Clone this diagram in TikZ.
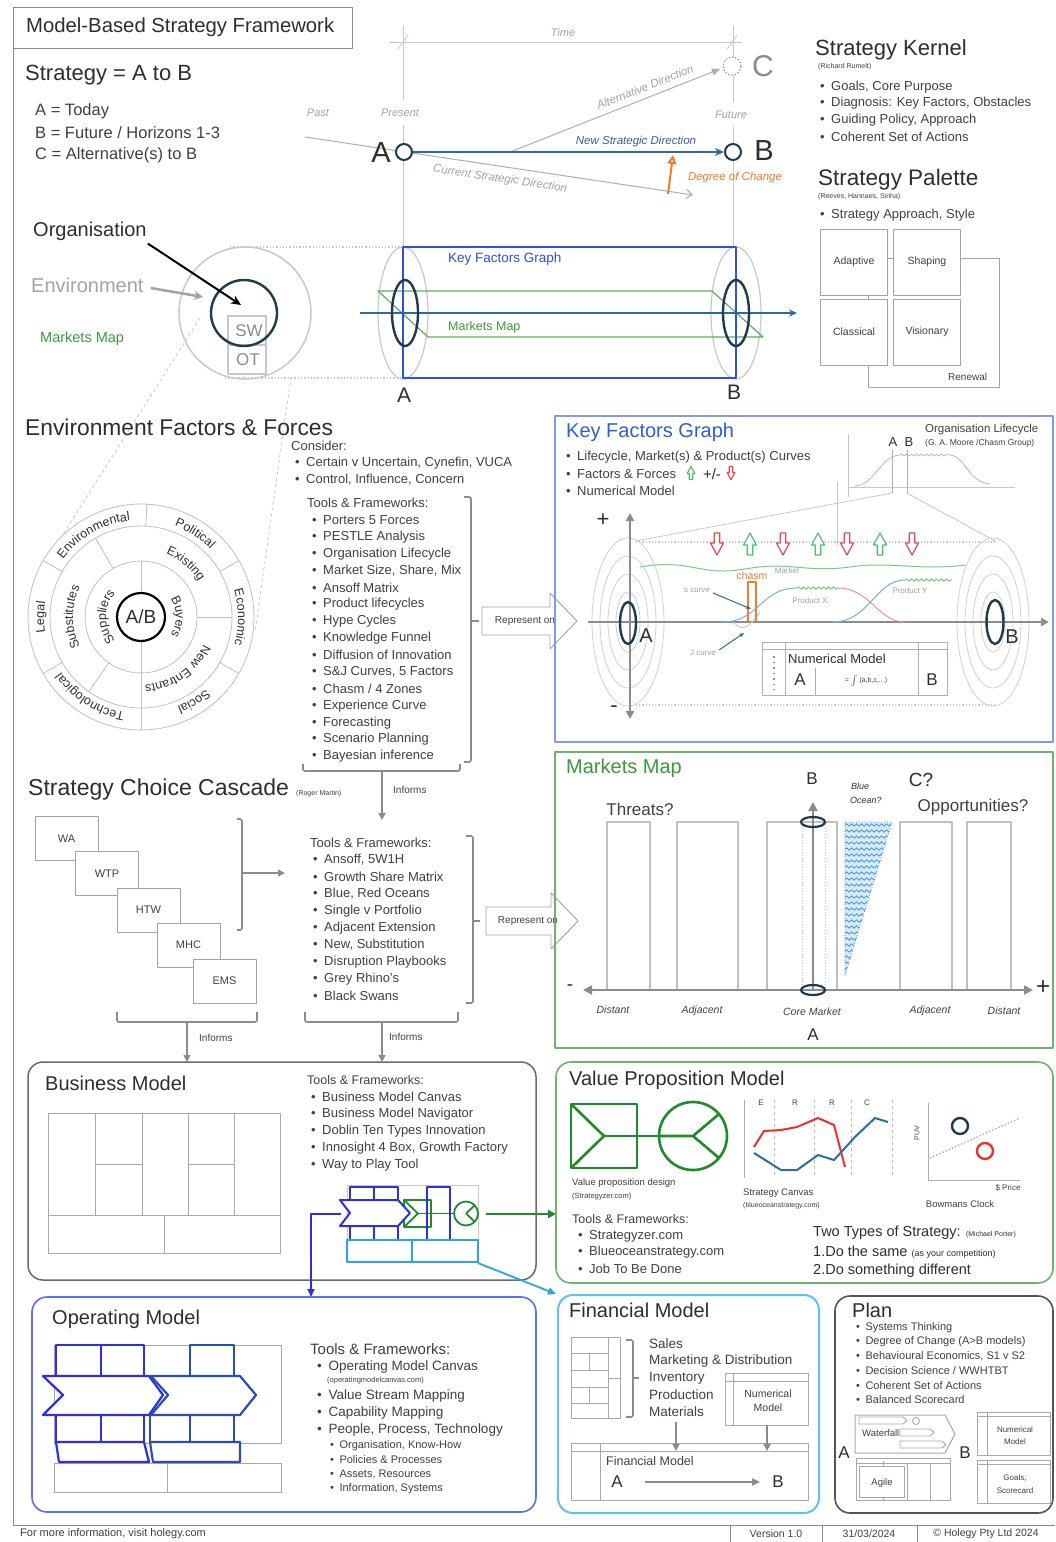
\documentclass[tikz,border=0pt]{standalone}
\usepackage{fontspec}
\setmainfont{Liberation Sans}
\usetikzlibrary{arrows.meta,decorations.text,decorations.pathmorphing,calc}

\definecolor{ink}{HTML}{2E2E2E}
\definecolor{body}{HTML}{404040}
\definecolor{faint}{HTML}{C8C8C8}
\definecolor{mid}{HTML}{8C8C8C}
\definecolor{navy}{HTML}{1E3A4C}
\definecolor{steel}{HTML}{2C6C99}
\definecolor{newdir}{HTML}{3B5BA5}
\definecolor{kfblue}{HTML}{2B50E2}
\definecolor{kfpanel}{HTML}{8499EE}
\definecolor{kftitle}{HTML}{2F5FD6}
\definecolor{mgreen}{HTML}{3A9A3A}
\definecolor{mpanel}{HTML}{6DB36D}
\definecolor{orng}{HTML}{F07D2A}
\definecolor{upgreen}{HTML}{4CC06A}
\definecolor{downred}{HTML}{E8474C}
\definecolor{pxblue}{HTML}{7AAFE8}
\definecolor{pxred}{HTML}{F29090}
\definecolor{pxgreen}{HTML}{74CF82}
\definecolor{omblue}{HTML}{2F2FE0}
\definecolor{omdark}{HTML}{2A4CB5}
\definecolor{ompanel}{HTML}{5C6FF0}
\definecolor{finblue}{HTML}{5EC2EE}
\definecolor{ocean}{HTML}{2E8FE0}
\definecolor{vpgreen}{HTML}{1E8C2A}
\definecolor{canred}{HTML}{F03030}
\definecolor{canblue}{HTML}{2F6E9A}
\definecolor{planedge}{HTML}{555555}
\definecolor{bmedge}{HTML}{6A6A6A}
\definecolor{tbl}{HTML}{A8A8A8}
\definecolor{lightcyan}{HTML}{29A8E0}

\newcommand\fz[1]{\fontsize{#1}{#1}\selectfont}
\newcommand\bul{\makebox[0.85em][l]{\textbullet}}
\newcommand\ringfont{\fontsize{12.5}{12.5}\selectfont}
% text set along a clockwise arc: radius, start angle, end angle, text
\newcommand\ringlabel[4]{\path[decorate, decoration={text along path, text align=center, text color=ink, text={|\ringfont|#4}}] (#2:#1) arc[start angle=#2, end angle=#3, radius=#1];}

\tikzset{
  tw/.style={anchor=west, inner sep=0pt, text=body},
  tc/.style={inner sep=0pt, text=body},
  faintline/.style={draw=faint, line width=0.8pt},
  brk/.style={draw=mid, line width=1.6pt, rounded corners=1.5pt},
  garrow/.style={draw=mid, line width=1.6pt, -{Triangle[length=7pt,width=7pt]}},
  repr/.style={draw=mid!80, line width=0.9pt, fill=white},
  wheelline/.style={draw=mid!55, line width=0.8pt},
  cbox/.style={draw=mid!80, line width=0.9pt, fill=white, minimum width=63pt, minimum height=44pt, inner sep=0pt, font=\fz{11}, text=body},
  pbox/.style={draw=mid!80, line width=0.9pt, minimum width=67pt, minimum height=66pt, inner sep=0pt, font=\fz{10.5}, text=body},
  upfat/.pic={\draw[line width=1.2pt, fill=white] (-2.8,11)--(-2.8,1)--(-6.5,1)--(0,-11)--(6.5,1)--(2.8,1)--(2.8,11)--cycle;},
  downfat/.pic={\draw[line width=1.2pt, fill=white] (-2.8,-11)--(-2.8,-1)--(-6.5,-1)--(0,11)--(6.5,-1)--(2.8,-1)--(2.8,-11)--cycle;},
}

\begin{document}
\begin{tikzpicture}[x=1pt, y=-1pt, line join=round]
\useasboundingbox (0,0) rectangle (1055,1542);
\fill[white] (0,0) rectangle (1055,1542);

%% ---------- frame and title ----------
\draw[draw=mid, line width=1pt] (13,7) rectangle (352,48);
\draw[draw=mid, line width=1pt] (13,48) -- (13,1525) -- (1055,1525);
\node[tw, text=ink, font=\fz{20.3}] (title) at (26,27) {Model-Based Strategy Framework};

%% ---------- Strategy = A to B ----------
\node[tw, text=ink, font=\fz{22}] (sab) at (25,75) {Strategy = A to B};
\node[tw, font=\fz{16.5}] (defa) at (35,111) {A = Today};
\node[tw, font=\fz{16.5}] (defb) at (35,133) {B = Future / Horizons 1-3};
\node[tw, font=\fz{16.5}] (defc) at (35,155) {C = Alternative(s) to B};

% time frame
\draw[faintline] (390,42) -- (742,42);
\draw[faintline] (398,49) -- (408,35);
\draw[faintline] (727,49) -- (737,35);
\node[tc, text=mid!80, font=\fz{11}\itshape] (time) at (563,33) {Time};
\draw[faintline] (403,26) -- (403,100);
\draw[faintline] (403,125) -- (403,247);
\draw[faintline] (733,26) -- (733,102);
\draw[faintline] (733,127) -- (733,247);
\node[tc, text=mid!80, font=\fz{11}\itshape] (past) at (318,113) {Past};
\node[tc, text=mid!80, font=\fz{11}\itshape] (present) at (400,113) {Present};
\node[tc, text=mid!80, font=\fz{11}\itshape] (future) at (731,115) {Future};

% directions
\coordinate (curS) at (305,137);
\coordinate (curE) at (693,195);
\draw[draw=mid!70, line width=1pt, -{Straight Barb[length=6pt,width=9pt]}] (curS) -- (curE);
\node[tc, text=mid!80, font=\fz{11.5}\itshape, rotate=-8.5] (curlbl) at (500,179) {Current Strategic Direction};
\coordinate (altS) at (510,152);
\coordinate (altE) at (720,69);
\draw[draw=mid!70, line width=1pt, -{Triangle[length=8pt,width=7pt]}] (altS) -- (altE);
\node[tc, text=mid!80, font=\fz{11.5}\itshape, rotate=21.6] (altlbl) at (645,87) {Alternative Direction};

\node[tc, text=ink, font=\fz{29}] (Atop) at (381,153) {A};
\node[circle, draw=navy, line width=2pt, fill=white, minimum size=16pt, inner sep=0pt] (Acirc) at (404,152) {};
\node[circle, draw=navy, line width=2pt, fill=white, minimum size=16pt, inner sep=0pt] (Bcirc) at (733,152) {};
\node[tc, text=ink, font=\fz{29}] (Btop) at (764,151) {B};
\node[circle, draw=mid, dotted, line width=1.2pt, fill=white, minimum size=18pt, inner sep=0pt] (Ccirc) at (732,66) {};
\node[tc, text=mid, font=\fz{30}] (Ctop) at (763,66) {C};
\draw[draw=steel, line width=2pt, -{Stealth[length=9pt,width=8pt]}] (Acirc) -- (Bcirc);
\node[tc, text=newdir, font=\fz{11.5}\itshape] (newlbl) at (636,142) {New Strategic Direction};
\coordinate (docS) at (668,194);
\coordinate (docE) at (673,155);
\draw[draw=orng, line width=2pt, -{Triangle[open,length=9pt,width=9pt]}] (docS) -- (docE);
\node[tc, text=orng, font=\fz{11.5}\itshape] (doclbl) at (735,178) {Degree of Change};

%% ---------- Strategy Kernel / Palette ----------
\node[tw, text=ink, font=\fz{22}] (sktitle) at (815,50) {Strategy Kernel};
\node[tw, font=\fz{7}] (skref) at (818,67) {(Richard Rumelt)};
\node[tw, font=\fz{13}] (sk1) at (820,87) {\bul Goals, Core Purpose};
\node[tw, font=\fz{13}] (sk2) at (820,103) {\bul Diagnosis: Key Factors, Obstacles};
\node[tw, font=\fz{13}] (sk3) at (820,120) {\bul Guiding Policy, Approach};
\node[tw, font=\fz{13}] (sk4) at (820,137) {\bul Coherent Set of Actions};
\node[tw, text=ink, font=\fz{22.5}] (sptitle) at (818,180) {Strategy Palette};
\node[tw, font=\fz{7}] (spref) at (818,197) {(Reeves, Hannaes, Sinha)};
\node[tw, font=\fz{13}] (sp1) at (820,215) {\bul Strategy Approach, Style};
\draw[draw=mid!80, line width=0.9pt] (960,258) -- (999,258) -- (999,387) -- (868,387) -- (868,366);
\node[pbox] (adaptive) at (854,262) {Adaptive};
\node[pbox] (shaping) at (927,262) {Shaping};
\node[pbox] (classical) at (854,332) {Classical};
\node[pbox] (visionary) at (927,332) {Visionary};
\draw[draw=mid!80, line width=0.9pt] (adaptive.east |- 0,258) -- (shaping.west |- 0,258);
\draw[draw=mid!80, line width=0.9pt] (868,295) -- (868,299);
\node[tw, font=\fz{10}] (renewal) at (948,377) {Renewal};

%% ---------- Organisation in its environment ----------
\draw[draw=faint, dotted, line width=1.3pt] (230,247) -- (403,247);
\draw[draw=faint, dotted, line width=1.3pt] (225,378) -- (403,378);
\draw[draw=faint, dashed, line width=0.8pt] (200,318) -- (62,536);
\draw[draw=faint, dashed, line width=0.8pt] (291,377) -- (255,632);
\node[circle, draw=faint, line width=1.5pt, minimum size=132pt, inner sep=0pt] (envcirc) at (245,313) {};
\draw[draw=faint, line width=1.2pt] (228,316) rectangle (266,374);
\draw[draw=faint, line width=1.2pt] (228,345) -- (266,345);
\node[tc, text=mid, font=\fz{17}] (sw) at (249,331) {SW};
\node[tc, text=mid, font=\fz{17}] (ot) at (248,360) {OT};
\node[circle, draw=navy, line width=2.4pt, minimum size=66pt, inner sep=0pt] (orgcirc) at (244,313) {};
\node[tw, text=ink, font=\fz{20}] (orglbl) at (33,231) {Organisation};
\node[tw, text=mid!80, font=\fz{20}] (envlbl) at (31,285) {Environment};
\node[tw, text=mgreen, font=\fz{14.5}] (mmlbl) at (40,339) {Markets Map};
\coordinate (orgtip) at (241,305);
\draw[draw=black, line width=2pt, -{Stealth[length=10pt,width=9pt]}] ($(orglbl.south east)+(1,3)$) -- (orgtip);
\coordinate (envtip) at (203,297);
\draw[draw=mid!80, line width=2.5pt, -{Stealth[length=9pt,width=9pt]}] ($(envlbl.east)+(7,3)$) -- (envtip);

%% ---------- A to B cylinder ----------
\draw[draw=faint, line width=1.2pt] (403,313) ellipse[x radius=25, y radius=66];
\draw[draw=faint, line width=1.2pt] (736,313) ellipse[x radius=25, y radius=66];
\draw[draw=mgreen!80, line width=1.2pt] (378,291) -- (712,291) -- (763,337) -- (428,337) -- cycle;
\draw[draw=steel, line width=1.5pt, -{Stealth[length=8pt,width=7pt]}] (360,313) -- (797,313);
\draw[draw=kfblue, line width=2pt] (403,247) rectangle (736,378);
\draw[draw=navy, line width=2.4pt] (405,313) ellipse[x radius=13, y radius=33];
\draw[draw=navy, line width=2.4pt] (736,313) ellipse[x radius=13, y radius=33];
\node[tw, text=kfblue, font=\fz{13.5}] (kfglbl) at (448,259) {Key Factors Graph};
\node[tw, text=mgreen, font=\fz{12.5}] (mmlbl2) at (448,327) {Markets Map};
\node[tc, text=ink, font=\fz{21}] (cylA) at (404,395) {A};
\node[tc, text=ink, font=\fz{21}] (cylB) at (734,392) {B};

%% ---------- Environment Factors & Forces ----------
\node[tw, text=ink, font=\fz{22.8}] (efftitle) at (25,427) {Environment Factors \& Forces};
\begin{scope}[shift={(141,617)}, y={(0pt,1pt)}]
  \draw[wheelline] (0,0) circle[radius=113];
  \draw[wheelline] (0,0) circle[radius=91];
  \draw[wheelline] (0,0) circle[radius=56];
  \foreach \a in {30,87,150,210,330} \draw[wheelline] (\a:91) -- (\a:113);
  \foreach \a in {0,120,235} \draw[wheelline] (\a:56) -- (\a:91);
  \draw[wheelline] (90:24) -- (90:56);
  \draw[wheelline] (270:24) -- (270:113);
  \node[circle, draw=black, line width=2.2pt, fill=white, minimum size=48pt, inner sep=0pt, font=\fz{19}, text=ink] (abhub) at (0,0) {A/B};
  \ringlabel{97}{170}{70}{Environmental}
  \ringlabel{97}{87}{27}{Political}
  \ringlabel{97}{32}{-32}{Economic}
  \ringlabel{97}{-26}{-90}{Social}
  \ringlabel{97}{-86}{-159}{Technological}
  \ringlabel{97}{212}{148}{Legal}
  \ringlabel{68}{115}{-15}{Existing}
  \ringlabel{68}{245}{115}{Substitutes}
  \ringlabel{68}{5}{-115}{New Entrants}
  \ringlabel{35}{260}{100}{Suppliers}
  \ringlabel{35}{85}{-85}{Buyers}
\end{scope}

\node[tw, font=\fz{13}] (consider) at (291,446) {Consider:};
\node[tw, font=\fz{13}] (cons1) at (295,463) {\bul Certain v Uncertain, Cynefin, VUCA};
\node[tw, font=\fz{13}] (cons2) at (295,480) {\bul Control, Influence, Concern};
\node[tw, font=\fz{13}] (envtf) at (307,503) {Tools \& Frameworks:};
\foreach \t [count=\i] in {Porters 5 Forces, PESTLE Analysis, Organisation Lifecycle, {Market Size, Share, Mix}, Ansoff Matrix, Product lifecycles, Hype Cycles, Knowledge Funnel, Diffusion of Innovation, {S\&J Curves, 5 Factors}, Chasm / 4 Zones, Experience Curve, Forecasting, Scenario Planning, Bayesian inference}
  \node[tw, font=\fz{13}] (envtool\i) at (312,503+16.9*\i) {\bul\t};
\draw[brk] (464,497) -- (471,497) -- (471,762) -- (464,762);
\draw[brk] (471,621) -- (479,621);
\draw[brk] (303,764) -- (303,771) -- (460,771) -- (460,764);
\coordinate (envinf) at (382,771);
\coordinate (castop) at (382,820);
\draw[garrow] (envinf) -- (castop);
\node[tw, font=\fz{10}] (inf1) at (393,790) {Informs};
\draw[repr] (482,607) -- (550,607) -- (550,593) -- (577,621) -- (550,649) -- (550,635) -- (482,635) -- cycle;
\node[tc, font=\fz{10}] (rep1) at (525,621) {Represent on};

%% ---------- Key Factors Graph panel ----------
\draw[draw=kfpanel, line width=2pt] (555,416) rectangle (1053,742);
\node[tw, text=kftitle, font=\fz{20}] (kfgtitle) at (566,432) {Key Factors Graph};
\node[tw, font=\fz{13}] (kfg1) at (566,457) {\bul Lifecycle, Market(s) \& Product(s) Curves};
\node[tw, font=\fz{13}] (kfg2) at (566,474) {\bul Factors \& Forces};
\pic[color=upgreen, scale=0.6] at (691,473) {upfat};
\node[tc, text=ink, font=\fz{15}] (kfgpm) at (712,474) {+/-};
\pic[color=downred, scale=0.6] at (731,473) {downfat};
\node[tw, font=\fz{13}] (kfg3) at (566,491) {\bul Numerical Model};

% lifecycle inset
\draw[faintline] (848,434) -- (848,497);
\draw[faintline] (848,487) -- (1015,487);
\draw[faintline] (837,482) -- (837,545);
\draw[draw=mid!60, line width=0.8pt] (855,486) .. controls (875,485) and (880,456) .. (900,455);
\draw[draw=mid!60, line width=0.8pt, decorate, decoration={snake, amplitude=1pt, segment length=5pt}] (900,455) -- (950,455);
\draw[draw=mid!60, line width=0.8pt] (950,455) .. controls (965,456) and (968,482) .. (990,484);
\draw[draw=mid!70, line width=1pt] (892,450) -- (892,493);
\draw[draw=mid!70, line width=1pt] (907,450) -- (907,493);
\node[tc, text=ink, font=\fz{13}] (lcA) at (893,442) {A};
\node[tc, text=ink, font=\fz{13}] (lcB) at (909,442) {B};
\node[tw, font=\fz{11.5}] (lclbl) at (925,430) {Organisation Lifecycle};
\node[tw, font=\fz{8.5}] (lcsrc) at (925,443) {(G. A. Moore /Chasm Group)};
\draw[faintline] (636,541) -- (892,493);
\draw[faintline] (907,493) -- (995,541);
\draw[draw=faint, dotted, line width=1.2pt] (636,542) -- (995,542);
\draw[draw=faint, dotted, line width=1.2pt] (636,705) -- (995,705);

% wheels seen side-on
\foreach \r/\s in {36/84, 28/66, 20/48, 12/30} {
  \draw[draw=faint!85, line width=0.8pt] (628,622) ellipse[x radius=\r, y radius=\s];
  \draw[draw=faint!85, line width=0.8pt] (993,622) ellipse[x radius=\r, y radius=\s];
}

% axes
\coordinate (vaxT) at (630,513);
\coordinate (vaxB) at (630,719);
\draw[draw=mid, line width=2pt, {Triangle[length=8pt,width=8pt]}-{Triangle[length=8pt,width=8pt]}] (vaxB) -- (vaxT);
\coordinate (haxL) at (588,622);
\coordinate (haxR) at (1049,622);
\draw[draw=mid, line width=2pt, -{Triangle[length=8pt,width=8pt]}] (haxL) -- (haxR);
\node[tc, text=ink, font=\fz{22}] (kplus) at (603,520) {+};
\node[tc, text=ink, font=\fz{22}] (kminus) at (614,709) {-};
\draw[draw=navy, line width=2.4pt] (628,623) ellipse[x radius=8, y radius=21];
\draw[draw=navy, line width=2.4pt] (995,622) ellipse[x radius=8.5, y radius=22];
\node[tc, text=ink, font=\fz{20}] (kA) at (646,636) {A};
\node[tc, text=ink, font=\fz{20}] (kB) at (1012,637) {B};

% factors and forces
\pic[color=downred] at (717,544) {downfat};
\pic[color=upgreen] at (750,544) {upfat};
\pic[color=downred] at (783,544) {downfat};
\pic[color=upgreen] at (818,544) {upfat};
\pic[color=downred] at (847,544) {downfat};
\pic[color=upgreen] at (880,544) {upfat};
\pic[color=downred] at (912,544) {downfat};

% market and product curves
\draw[draw=pxgreen, line width=1pt] (640,567) .. controls (690,558) and (700,577) .. (745,569) .. controls (790,561) and (805,573) .. (850,567) .. controls (890,561) and (920,571) .. (965,565);
\node[tc, text=mid!80, font=\fz{8}] (mktlbl) at (787,571) {Market};
\draw[draw=pxblue, line width=1pt] (722,622) .. controls (760,622) and (760,588) .. (797,588);
\draw[draw=pxgreen, line width=1pt, decorate, decoration={snake, amplitude=1.2pt, segment length=5pt}] (797,588) -- (838,588);
\draw[draw=pxred, line width=1pt] (838,588) .. controls (870,588) and (878,622) .. (905,622);
\draw[draw=pxblue, line width=1pt] (832,622) .. controls (870,622) and (875,580) .. (905,580);
\draw[draw=pxgreen, line width=1pt, decorate, decoration={snake, amplitude=1.2pt, segment length=5pt}] (905,580) -- (952,580);
\node[tc, text=mid!80, font=\fz{8}] (pxlbl) at (810,601) {Product X};
\node[tc, text=mid!80, font=\fz{8}] (pylbl) at (910,591) {Product Y};
\draw[draw=faint, line width=0.9pt] (734,622) .. controls (740,631) and (748,630) .. (760,612);
\draw[draw=orng, line width=1.2pt] (748,622) -- (748,582) -- (756,582) -- (756,622);
\node[tc, text=orng, font=\fz{10.5}] (chasm) at (752,576) {chasm};
\node[tc, text=mid!80, font=\fz{8}] (scurve) at (697,590) {s curve};
\node[tc, text=mid!80, font=\fz{8}] (jcurve) at (703,653) {J curve};
\draw[draw=steel, line width=1pt, -{Stealth[length=5pt,width=4pt]}] (scurve.east) ++(3,3) -- (751,609);
\draw[draw=steel, line width=1pt, -{Stealth[length=5pt,width=4pt]}] (jcurve.east) ++(3,-3) -- (744,633);

% numerical model
\draw[draw=mid!70, line width=1pt] (762,642) rectangle (947,695);
\draw[draw=mid!70, line width=1pt] (762,649) -- (947,649);
\draw[draw=mid!70, line width=1pt] (785,642) -- (785,695);
\draw[draw=mid!70, line width=1pt] (815,668) -- (815,695);
\draw[draw=mid!70, line width=1pt] (918,642) -- (918,695);
\draw[draw=mid, line width=1.6pt, dash pattern=on 1.5pt off 4pt] (774,656) -- (774,690);
\node[tw, text=ink, font=\fz{13}] (nmlbl) at (788,659) {Numerical Model};
\node[tc, text=ink, font=\fz{17}] (nmA) at (800,680) {A};
\node[tc, font=\fz{7}] (nmF) at (866,681) {= $\int$ (a,b,c,...)};
\node[tc, text=ink, font=\fz{17}] (nmB) at (932,680) {B};

%% ---------- Strategy Choice Cascade ----------
\node[tw, text=ink, font=\fz{23}] (scctitle) at (28,790) {Strategy Choice Cascade};
\node[tw, font=\fz{7}] (sccref) at (296,794) {(Roger Martin)};
\node[cbox] (wa) at (66.5,838.5) {WA};
\node[cbox] (wtp) at (107,873.5) {WTP};
\node[cbox] (htw) at (148.5,910) {HTW};
\node[cbox] (mhc) at (188.5,945) {MHC};
\node[cbox] (ems) at (224.5,981) {EMS};
\draw[brk] (237,819) -- (242,819) -- (242,930) -- (237,930);
\coordinate (casbrk) at (242,873);
\coordinate (castools) at (285,873);
\draw[garrow] (casbrk) -- (castools);
\node[tw, font=\fz{13}] (castf) at (310,843) {Tools \& Frameworks:};
\foreach \t [count=\i] in {{Ansoff, 5W1H}, Growth Share Matrix, {Blue, Red Oceans}, Single v Portfolio, Adjacent Extension, {New, Substitution}, Disruption Playbooks, Grey Rhino's, Black Swans}
  \node[tw, font=\fz{13}] (castool\i) at (313,843+17*\i) {\bul\t};
\draw[brk] (466,836) -- (473,836) -- (473,1003) -- (466,1003);
\draw[brk] (473,921) -- (480,921);
\draw[repr] (486,907) -- (551,907) -- (551,893) -- (578,921) -- (551,949) -- (551,935) -- (486,935) -- cycle;
\node[tc, font=\fz{10}] (rep2) at (528,921) {Represent on};
\draw[brk] (117,1012) -- (117,1022) -- (257,1022) -- (257,1012);
\coordinate (casinfL) at (187,1022);
\coordinate (bmtopL) at (187,1062);
\draw[garrow] (casinfL) -- (bmtopL);
\node[tw, font=\fz{10}] (inf2) at (199,1038) {Informs};
\draw[brk] (305,1012) -- (305,1022) -- (458,1022) -- (458,1012);
\coordinate (casinfR) at (382,1022);
\coordinate (bmtopR) at (382,1062);
\draw[garrow] (casinfR) -- (bmtopR);
\node[tw, font=\fz{10}] (inf3) at (389,1037) {Informs};

%% ---------- Markets Map panel ----------
\draw[draw=mpanel, line width=1.8pt] (555,752) rectangle (1053,1048);
\node[tw, text=mgreen, font=\fz{20}] (mmtitle) at (566,768) {Markets Map};
\foreach \xa/\xb in {607/650, 677/738, 767/837, 900/952, 967/1011}
  \draw[draw=mid!55, line width=1.2pt] (\xa,990) -- (\xa,822) -- (\xb,822) -- (\xb,990);
\draw[draw=faint, dotted, line width=1pt] (802,822) -- (802,990);
\draw[draw=faint, dotted, line width=1pt] (825,822) -- (825,990);
\begin{scope}
  \clip (845,822) -- (892,822) -- (845,975) -- cycle;
  \fill[fill=ocean!18] (845,822) -- (892,822) -- (845,975) -- cycle;
  \foreach \yy in {825,831,...,975}
    \draw[draw=ocean, line width=0.7pt, decorate, decoration={snake, amplitude=1.3pt, segment length=5pt}] (840,\yy) -- (896,\yy);
\end{scope}
\draw[draw=ocean, dotted, line width=0.8pt] (845,822) -- (892,822) -- (845,975) -- cycle;
\coordinate (mmL) at (583,990);
\coordinate (mmR) at (1033,990);
\draw[draw=mid, line width=2pt, {Triangle[length=9pt,width=9pt]}-{Triangle[length=9pt,width=9pt]}] (mmL) -- (mmR);
\coordinate (mmcore) at (813,990);
\coordinate (mmup) at (813,802);
\draw[draw=mid, line width=2pt, -{Triangle[length=9pt,width=9pt]}] (mmcore) -- (mmup);
\draw[draw=navy, line width=2.2pt] (813,822) ellipse[x radius=12, y radius=5];
\draw[draw=navy, line width=2.2pt] (813,990) ellipse[x radius=12, y radius=5];
\node[tc, text=ink, font=\fz{19}] (mmminus) at (570,988) {-};
\node[tc, text=ink, font=\fz{24}] (mmplus) at (1043,988) {+};
\node[tc, text=ink, font=\fz{17}] (mmB) at (812,779) {B};
\node[tc, text=ink, font=\fz{17}] (mmA) at (813,1035) {A};
\node[tc, text=ink, font=\fz{19}] (mmC) at (921,780) {C?};
\node[tw, text=ink, font=\fz{9}\itshape] (blue1) at (851,786) {Blue};
\node[tw, text=ink, font=\fz{9}\itshape] (blue2) at (850,800) {Ocean?};
\node[tc, text=body, font=\fz{17}] (threats) at (640,809) {Threats?};
\node[tc, text=body, font=\fz{17}] (opps) at (973,807) {Opportunities?};
\node[tc, text=body, font=\fz{10.5}\itshape] (dl1) at (613,1010) {Distant};
\node[tc, text=body, font=\fz{10.5}\itshape] (ad1) at (702,1011) {Adjacent};
\node[tc, text=body, font=\fz{10.5}\itshape] (core) at (812,1012) {Core Market};
\node[tc, text=body, font=\fz{10.5}\itshape] (ad2) at (930,1011) {Adjacent};
\node[tc, text=body, font=\fz{10.5}\itshape] (dl2) at (1004,1011) {Distant};

%% ---------- Business Model ----------
\draw[draw=bmedge, line width=1.5pt, rounded corners=15pt] (28,1062) rectangle (536,1280);
\node[tw, text=ink, font=\fz{20}] (bmtitle) at (45,1083) {Business Model};
\draw[draw=tbl, line width=1pt] (48,1113) rectangle (280,1253);
\foreach \xx in {95,142,188,234} \draw[draw=tbl, line width=1pt] (\xx,1113) -- (\xx,1215);
\draw[draw=tbl, line width=1pt] (48,1215) -- (280,1215);
\draw[draw=tbl, line width=1pt] (164,1215) -- (164,1253);
\draw[draw=tbl, line width=1pt] (95,1164) -- (142,1164);
\draw[draw=tbl, line width=1pt] (188,1164) -- (234,1164);
\node[tw, font=\fz{12.5}] (bmtf) at (307,1080) {Tools \& Frameworks:};
\foreach \t [count=\i] in {Business Model Canvas, Business Model Navigator, Doblin Ten Types Innovation, {Innosight 4 Box, Growth Factory}, Way to Play Tool}
  \node[tw, font=\fz{13}] (bmtool\i) at (311,1080+17*\i) {\bul\t};
% small operating + value proposition sketch
\draw[draw=faint, line width=1pt] (347,1185) rectangle (478,1262);
\draw[draw=vpgreen, line width=1.8pt] (404,1200) rectangle (431,1227);
\draw[draw=vpgreen, line width=1.8pt] (404,1200) -- (418,1213.5) -- (404,1227);
\draw[draw=vpgreen, line width=1.8pt] (418,1213.5) -- (454,1213.5);
\draw[draw=vpgreen, line width=1.8pt] (466,1213.5) circle[radius=12];
\draw[draw=vpgreen, line width=1.8pt] (466,1213.5) -- (475,1205) (466,1213.5) -- (475,1222);
\draw[draw=omblue, line width=2pt] (350,1187) rectangle (374,1200);
\draw[draw=omblue, line width=2pt] (374,1187) rectangle (398,1200);
\draw[draw=omblue, line width=2pt] (350,1226) rectangle (374,1240);
\draw[draw=omblue, line width=2pt] (374,1226) rectangle (398,1240);
\draw[draw=omblue, line width=2pt, fill=white] (340,1200) -- (398,1200) -- (410,1213) -- (398,1226) -- (340,1226) -- (350,1213) -- cycle;
\draw[draw=omblue, line width=2pt] (427,1187) rectangle (450,1240);
\draw[draw=lightcyan, line width=2pt] (347,1240) rectangle (412,1262);
\draw[draw=lightcyan, line width=2pt] (412,1240) rectangle (478,1262);
\coordinate (bmvp) at (486,1214);
\coordinate (vpin) at (556,1214);
\draw[draw=vpgreen, line width=2pt, -{Triangle[length=8pt,width=8pt]}] (bmvp) -- (vpin);
\coordinate (bmom) at (341,1214);
\coordinate (ombend) at (311,1214);
\coordinate (omin) at (311,1297);
\draw[draw=omblue, line width=1.8pt, -{Triangle[length=8pt,width=7pt]}] (bmom) -- (ombend) -- (omin);
\coordinate (bmfin) at (478,1263);
\coordinate (finin) at (556,1294);
\draw[draw=lightcyan, line width=1.8pt, -{Triangle[length=8pt,width=7pt]}] (bmfin) -- (finin);

%% ---------- Value Proposition Model ----------
\draw[draw=mpanel, line width=1.6pt, rounded corners=15pt] (556,1062) rectangle (1053,1283);
\node[tw, text=ink, font=\fz{20}] (vptitle) at (569,1080) {Value Proposition Model};
\draw[draw=vpgreen, line width=2.6pt] (571,1104) rectangle (637,1168);
\draw[draw=vpgreen, line width=2.6pt] (571,1104) -- (604,1136) -- (571,1168);
\draw[draw=vpgreen, line width=2.6pt] (604,1136) -- (659,1136);
\draw[draw=vpgreen, line width=2.6pt] (693,1136) circle[radius=34];
\draw[draw=vpgreen, line width=2.6pt] (659,1136) -- (693,1136) -- (719,1114) (693,1136) -- (719,1158);
\node[tw, font=\fz{9.5}] (vpd1) at (572,1183) {Value proposition design};
\node[tw, font=\fz{7.5}] (vpd2) at (572,1197) {(Strategyzer.com)};
% strategy canvas
\draw[draw=mid!70, line width=1pt] (744,1100) -- (744,1178);
\foreach \xx in {774,814,851,892} \draw[draw=mid!60, dashed, line width=0.9pt] (\xx,1100) -- (\xx,1178);
\node[tc, font=\fz{8}] (scE) at (761,1103) {E};
\node[tc, font=\fz{8}] (scR1) at (795,1103) {R};
\node[tc, font=\fz{8}] (scR2) at (832,1103) {R};
\node[tc, font=\fz{8}] (scC) at (867,1103) {C};
\draw[draw=canred, line width=2pt] (754,1147) -- (764,1131) -- (781,1130) -- (797,1127) -- (818,1118) -- (834,1125) -- (845,1167);
\draw[draw=canblue, line width=2pt] (754,1153) -- (781,1170) -- (797,1170) -- (818,1155) -- (834,1160) -- (855,1137) -- (875,1118) -- (888,1122);
\node[tw, font=\fz{9.5}] (sc1) at (743,1193) {Strategy Canvas};
\node[tw, font=\fz{7}] (sc2) at (743,1206) {(blueoceanstrategy.com)};
% bowman's clock
\draw[draw=mid!70, line width=1pt] (928,1103) -- (928,1180) -- (1020,1180);
\draw[draw=mid!70, dotted, line width=1.4pt] (930,1158) -- (1020,1118);
\node[tc, font=\fz{7}, rotate=90] (puv) at (917,1133) {PUV};
\node[circle, draw=navy, line width=2.4pt, minimum size=16pt, inner sep=0pt] (bcA) at (960,1126) {};
\node[circle, draw=canred, line width=2.4pt, minimum size=16pt, inner sep=0pt] (bcB) at (985,1151) {};
\node[tc, font=\fz{8}] (price) at (1008,1188) {\$ Price};
\node[tc, font=\fz{9.5}] (bowman) at (960,1204) {Bowmans Clock};
\node[tw, font=\fz{12.5}] (vptf) at (572,1219) {Tools \& Frameworks:};
\node[tw, font=\fz{13}] (vpt1) at (578,1236) {\bul Strategyzer.com};
\node[tw, font=\fz{13}] (vpt2) at (578,1252) {\bul Blueoceanstrategy.com};
\node[tw, font=\fz{13}] (vpt3) at (578,1269) {\bul Job To Be Done};
\node[tw, text=ink, font=\fz{14.5}] (two) at (813,1233) {Two Types of Strategy: {\fz{7}(Michael Porter)}};
\node[tw, text=ink, font=\fz{14.5}] (two1) at (813,1252) {1.Do the same {\fz{9}(as your competition)}};
\node[tw, text=ink, font=\fz{14.5}] (two2) at (813,1271) {2.Do something different};

%% ---------- Operating Model ----------
\draw[draw=ompanel, line width=1.6pt, rounded corners=15pt] (32,1297) rectangle (536,1512);
\node[tw, text=ink, font=\fz{20}] (omtitle) at (52,1319) {Operating Model};
\draw[draw=tbl, line width=1pt] (54,1345) rectangle (281,1443);
\draw[draw=tbl, line width=1pt] (54,1463) rectangle (167,1492);
\draw[draw=tbl, line width=1pt] (167,1463) rectangle (281,1492);
% first value stream
\draw[draw=omblue, line width=2.2pt, fill=white] (56,1345) rectangle (101,1376);
\draw[draw=omblue, line width=2.2pt, fill=white] (101,1345) rectangle (144,1376);
\draw[draw=omblue, line width=2.2pt, fill=white] (56,1415) rectangle (101,1442);
\draw[draw=omblue, line width=2.2pt, fill=white] (101,1415) rectangle (144,1442);
\draw[draw=omblue, line width=2.2pt, fill=white] (56,1442) -- (144,1442) -- (149,1462) -- (59,1462) -- cycle;
\draw[draw=omblue, line width=2.2pt, fill=white] (43,1376) -- (149,1376) -- (163,1395) -- (149,1415) -- (43,1415) -- (63,1395) -- cycle;
% second value stream
\draw[draw=omdark, line width=2.2pt, fill=white] (190,1345) rectangle (234,1376);
\draw[draw=omdark, line width=2.2pt, fill=white] (150,1415) rectangle (190,1442);
\draw[draw=omdark, line width=2.2pt, fill=white] (190,1415) rectangle (234,1442);
\draw[draw=omdark, line width=2.2pt, fill=white] (150,1442) -- (240,1442) -- (240,1462) -- (153,1462) -- cycle;
\draw[draw=omdark, line width=2.2pt] (151,1376) -- (240,1376) -- (256,1395) -- (240,1415) -- (151,1415) -- (168,1395) -- cycle;
\node[tw, font=\fz{15}] (omtf) at (310,1349) {Tools \& Frameworks:};
\node[tw, font=\fz{13.5}] (omt1) at (317,1367) {\bul Operating Model Canvas};
\node[tw, font=\fz{7.5}] (omt1b) at (327,1381) {(operatingmodelcanvas.com)};
\node[tw, font=\fz{13.5}] (omt2) at (317,1396) {\bul Value Stream Mapping};
\node[tw, font=\fz{13.5}] (omt3) at (317,1413) {\bul Capability Mapping};
\node[tw, font=\fz{13.5}] (omt4) at (317,1430) {\bul People, Process, Technology};
\node[tw, font=\fz{11}] (oms1) at (330,1446) {\bul Organisation, Know-How};
\node[tw, font=\fz{11}] (oms2) at (330,1460) {\bul Policies \& Processes};
\node[tw, font=\fz{11}] (oms3) at (330,1474) {\bul Assets, Resources};
\node[tw, font=\fz{11}] (oms4) at (330,1489) {\bul Information, Systems};

%% ---------- Financial Model ----------
\draw[draw=finblue, line width=2pt, rounded corners=15pt] (558,1295) rectangle (819,1513);
\node[tw, text=ink, font=\fz{20}] (fmtitle) at (569,1310) {Financial Model};
\draw[draw=tbl, line width=1pt] (571,1337) rectangle (620,1418);
\draw[draw=tbl, line width=1pt] (608,1337) -- (608,1418);
\foreach \yy in {1353,1370,1387,1403} \draw[draw=tbl, line width=1pt] (571,\yy) -- (608,\yy);
\draw[draw=tbl, line width=1pt] (589,1353) -- (589,1370);
\draw[draw=tbl, line width=1pt] (589,1387) -- (589,1403);
\draw[draw=tbl, line width=1pt] (608,1378) -- (620,1378);
\draw[brk] (626,1340) -- (633,1340) -- (633,1417) -- (626,1417);
\draw[brk] (633,1378) -- (639,1378);
\node[tw, font=\fz{13.5}] (fm1) at (649,1344) {Sales};
\node[tw, font=\fz{13.5}] (fm2) at (649,1361) {Marketing \& Distribution};
\node[tw, font=\fz{13.5}] (fm3) at (649,1378) {Inventory};
\node[tw, font=\fz{13.5}] (fm4) at (649,1395) {Production};
\node[tw, font=\fz{13.5}] (fm5) at (649,1412) {Materials};
\draw[draw=tbl, line width=1pt] (725,1373) rectangle (808,1425);
\draw[draw=tbl, line width=1pt] (725,1381) -- (808,1381);
\draw[draw=tbl, line width=1pt] (733,1373) -- (733,1425);
\node[tc, font=\fz{10.5}] (fmnm1) at (768,1394) {Numerical};
\node[tc, font=\fz{10.5}] (fmnm2) at (768,1408) {Model};
\draw[draw=tbl, line width=1pt] (571,1443) rectangle (808,1500);
\draw[draw=tbl, line width=1pt] (571,1451) -- (808,1451);
\draw[draw=tbl, line width=1pt] (600,1443) -- (600,1500);
\coordinate (fmlistend) at (676,1422);
\coordinate (fmboxtopL) at (676,1451);
\draw[garrow] (fmlistend) -- (fmboxtopL);
\coordinate (fmnmend) at (767,1425);
\coordinate (fmboxtopR) at (767,1451);
\draw[garrow] (fmnmend) -- (fmboxtopR);
\node[tw, font=\fz{12.5}] (fmbox) at (606,1461) {Financial Model};
\node[tc, text=ink, font=\fz{17}] (fmA) at (617,1482) {A};
\node[tc, text=ink, font=\fz{17}] (fmB) at (778,1482) {B};
\draw[draw=mid, line width=1.8pt, -{Triangle[length=8pt,width=7pt]}] ($(fmA.east)+(22,0)$) -- ($(fmB.west)+(-12,0)$);

%% ---------- Plan ----------
\draw[draw=planedge, line width=1.6pt, rounded corners=15pt] (835,1296) rectangle (1053,1513);
\node[tw, text=ink, font=\fz{20}] (plantitle) at (852,1310) {Plan};
\foreach \t [count=\i] in {Systems Thinking, Degree of Change (A>B models), {Behavioural Economics, S1 v S2}, Decision Science / WWHTBT, Coherent Set of Actions, Balanced Scorecard}
  \node[tw, font=\fz{11}] (plan\i) at (856,1313+14.5*\i) {\bul\t};
% waterfall
\draw[draw=tbl, line width=1pt] (855,1415) -- (945,1415) -- (955,1434) -- (945,1453) -- (855,1453) -- cycle;
\draw[draw=tbl, line width=0.9pt] (859,1417) -- (903,1417) -- (907,1420.5) -- (903,1424) -- (859,1424) -- cycle;
\draw[draw=tbl, line width=0.9pt] (916,1421) circle[radius=3.5];
\draw[draw=tbl, line width=0.9pt] (900,1429) -- (930,1429) -- (934,1432.5) -- (930,1436) -- (900,1436) -- cycle;
\draw[draw=tbl, line width=0.9pt] (900,1441) -- (942,1441) -- (946,1444.5) -- (942,1448) -- (900,1448) -- cycle;
\node[tw, font=\fz{9.5}] (wfall) at (862,1433) {Waterfall};
% agile
\draw[draw=tbl, line width=1pt] (856,1458) rectangle (950,1500);
\draw[draw=tbl, line width=1pt] (856,1463) -- (950,1463);
\draw[draw=tbl, line width=1pt] (907,1463) -- (907,1500);
\draw[draw=tbl, line width=1pt] (930,1463) -- (930,1500);
\draw[draw=tbl, line width=1pt] (859,1466) rectangle (904,1497);
\draw[draw=tbl, line width=1pt] (883,1461) -- (883,1466);
\draw[draw=tbl, line width=1pt] (883,1497) -- (883,1500);
\node[tc, font=\fz{9.5}] (agile) at (882,1483) {Agile};
\node[tc, text=ink, font=\fz{17}] (planA) at (844,1453) {A};
\node[tc, text=ink, font=\fz{17}] (planB) at (965,1453) {B};
\draw[draw=tbl, line width=1pt] (977,1412) rectangle (1050,1455);
\draw[draw=tbl, line width=1pt] (977,1416) -- (1050,1416);
\draw[draw=tbl, line width=1pt] (987,1412) -- (987,1455);
\node[tc, font=\fz{8}] (plnm1) at (1015,1430) {Numerical};
\node[tc, font=\fz{8}] (plnm2) at (1015,1442) {Model};
\draw[draw=tbl, line width=1pt] (977,1460) rectangle (1050,1503);
\draw[draw=tbl, line width=1pt] (977,1464) -- (1050,1464);
\draw[draw=tbl, line width=1pt] (987,1460) -- (987,1503);
\node[tc, font=\fz{8}] (plg1) at (1015,1478) {Goals,};
\node[tc, font=\fz{8}] (plg2) at (1015,1491) {Scorecard};

%% ---------- footer ----------
\node[tw, font=\fz{11}] (foot1) at (20,1534) {For more information, visit holegy.com};
\draw[draw=mid, line width=0.8pt] (730,1525) -- (730,1542);
\draw[draw=mid, line width=0.8pt] (822,1525) -- (822,1542);
\draw[draw=mid, line width=0.8pt] (917,1525) -- (917,1542);
\node[tc, font=\fz{10.5}] (foot2) at (776,1534) {Version 1.0};
\node[tc, font=\fz{10.5}] (foot3) at (869,1534) {31/03/2024};
\node[tc, font=\fz{10.5}] (foot4) at (986,1534) {© Holegy Pty Ltd 2024};
\end{tikzpicture}
\end{document}
